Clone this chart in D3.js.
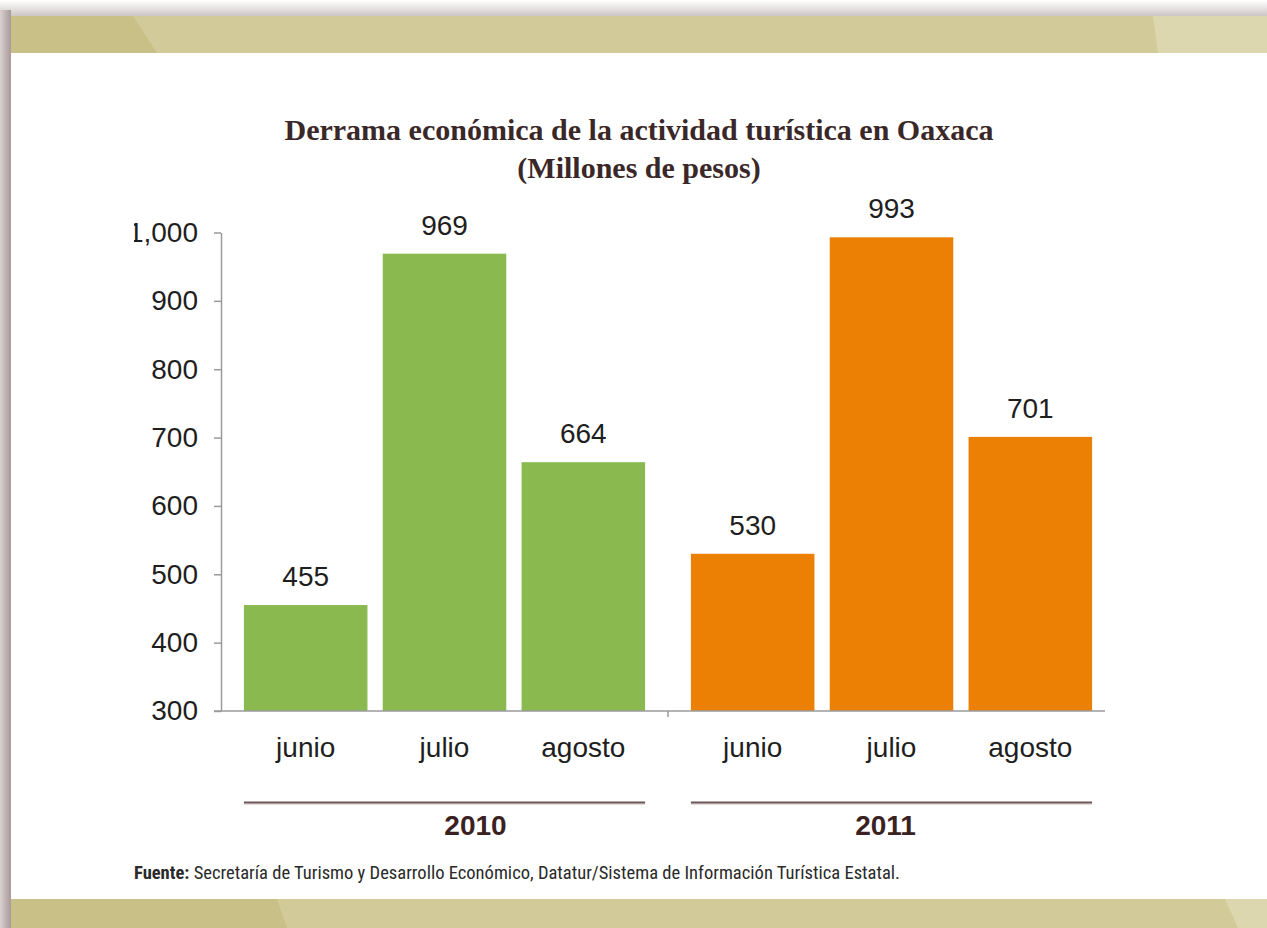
<!DOCTYPE html>
<html><head><meta charset="utf-8">
<script src="https://cdn.jsdelivr.net/npm/d3@7"></script>
<style>body{margin:0;background:#fff}svg{display:block}</style>
</head><body><svg id="c" width="1267" height="928"></svg>
<script>
// ---- data ----
const years = ["2010", "2011"];
const months = ["junio", "julio", "agosto"];
const values2010 = [455, 969, 664];
const values2011 = [530, 993, 701];
const yTicks = [300, 400, 500, 600, 700, 800, 900, 1000];
const seriesColors = ["#8aba4f", "#ec8005"];
const titleLines = ["Derrama económica de la actividad turística en Oaxaca", "(Millones de pesos)"];
const sourceLabel = "Fuente:";
const sourceText = " Secretaría de Turismo y Desarrollo Económico, Datatur/Sistema de Información Turística Estatal.";

const seriesValues = [values2010, values2011];
const rows = [];
years.forEach((yr, i) => months.forEach((m, j) => rows.push({year: yr, month: m, value: seriesValues[i][j], color: seriesColors[i]})));

const svg = d3.select("#c");
const W = 1267, H = 928;
const defs = svg.append("defs");

// ---- page decoration ----
const gTop = defs.append("linearGradient").attr("id", "gTop").attr("x1", 0).attr("y1", 0).attr("x2", 0).attr("y2", 1);
gTop.append("stop").attr("offset", "0%").attr("stop-color", "#ffffff");
gTop.append("stop").attr("offset", "100%").attr("stop-color", "#cdc7c6");
const gLeft = defs.append("linearGradient").attr("id", "gLeft").attr("x1", 0).attr("y1", 0).attr("x2", 1).attr("y2", 0);
gLeft.append("stop").attr("offset", "0%").attr("stop-color", "#d9d1cf");
gLeft.append("stop").attr("offset", "100%").attr("stop-color", "#a8999a");

svg.append("rect").attr("width", W).attr("height", H).attr("fill", "#fff");
svg.append("rect").attr("x", 0).attr("y", 0).attr("width", W).attr("height", 16).attr("fill", "url(#gTop)");
svg.append("rect").attr("x", 0).attr("y", 10).attr("width", 11).attr("height", H - 10).attr("fill", "url(#gLeft)");

// top band
svg.append("rect").attr("x", 11).attr("y", 16).attr("width", W - 11).attr("height", 37).attr("fill", "#d2ca99");
svg.append("path").attr("d", "M11,16 L133,16 L157,53 L11,53 Z").attr("fill", "#c8c086");
svg.append("path").attr("d", "M1153,16 L1267,16 L1267,53 L1158,53 Z").attr("fill", "#ddd7b0");
// bottom band
svg.append("rect").attr("x", 11).attr("y", 899).attr("width", W - 11).attr("height", 29).attr("fill", "#d2ca99");
svg.append("path").attr("d", "M11,899 L277,899 L287,928 L11,928 Z").attr("fill", "#c8c086");
svg.append("path").attr("d", "M1225,899 L1267,899 L1267,928 L1238,928 Z").attr("fill", "#ddd7b0");

// ---- title ----
svg.append("g").selectAll("text").data(titleLines).join("text")
  .attr("x", 639).attr("y", (d, i) => 140 + i * 38)
  .attr("text-anchor", "middle")
  .attr("font-family", "'Liberation Serif', 'DejaVu Serif', serif")
  .attr("font-weight", "bold").attr("font-size", 30)
  .attr("fill", "#3a2828")
  .text(d => d);

// ---- scales ----
const y = d3.scaleLinear().domain([300, 1000]).range([711, 232.5]);
const x0 = d3.scaleBand().domain(years).range([221, 1115]);
const x1 = d3.scaleBand().domain(months).range([0, x0.bandwidth()]).paddingInner(0.11).paddingOuter(0.165);

const chart = svg.append("g");

// bars
chart.append("g").selectAll("rect").data(rows).join("rect")
  .attr("x", d => x0(d.year) + x1(d.month))
  .attr("y", d => y(d.value))
  .attr("width", x1.bandwidth())
  .attr("height", d => y(300) - y(d.value))
  .attr("fill", d => d.color);

// value labels
chart.append("g").selectAll("text").data(rows).join("text")
  .attr("x", d => x0(d.year) + x1(d.month) + x1.bandwidth() / 2)
  .attr("y", d => y(d.value) - 19)
  .attr("text-anchor", "middle")
  .attr("font-family", "'Liberation Sans', Arial, sans-serif")
  .attr("font-size", 28).attr("fill", "#1e1e1e")
  .text(d => d.value);

// y axis (clipped at left like the reference)
defs.append("clipPath").attr("id", "clipY").append("rect").attr("x", 134 - 221).attr("y", 0).attr("width", 300).attr("height", H);
const yAxis = chart.append("g").attr("transform", "translate(221,0)").attr("clip-path", "url(#clipY)")
  .call(d3.axisLeft(y).tickValues(yTicks).tickSize(7).tickSizeOuter(0).tickPadding(16).tickFormat(d3.format(",")));
yAxis.select(".domain").attr("stroke", "#9a9a9a").attr("stroke-width", 1.5);
yAxis.selectAll(".tick line").attr("stroke", "#9a9a9a").attr("stroke-width", 1.5);
yAxis.selectAll(".tick text").attr("font-family", "'Liberation Sans', Arial, sans-serif").attr("font-size", 28).attr("fill", "#1e1e1e");

// x axis
const xa = chart.append("g");
xa.append("line").attr("x1", 214).attr("x2", 1105).attr("y1", y(300)).attr("y2", y(300))
  .attr("stroke", "#9a9a9a").attr("stroke-width", 1.5);
xa.selectAll("line.sep").data(years.slice(1)).join("line").attr("class", "sep")
  .attr("x1", d => x0(d)).attr("x2", d => x0(d)).attr("y1", y(300)).attr("y2", y(300) + 6)
  .attr("stroke", "#9a9a9a").attr("stroke-width", 1.5);

// month labels
chart.append("g").selectAll("text").data(rows).join("text")
  .attr("x", d => x0(d.year) + x1(d.month) + x1.bandwidth() / 2)
  .attr("y", 757)
  .attr("text-anchor", "middle")
  .attr("font-family", "'Liberation Sans', Arial, sans-serif")
  .attr("font-size", 28).attr("fill", "#1e1e1e")
  .text(d => d.month);

// year group lines + labels
const yearOffsets = [31, -6];
const yg = chart.append("g").selectAll("g").data(years).join("g");
yg.append("line")
  .attr("x1", d => x0(d) + x1(months[0]))
  .attr("x2", d => x0(d) + x1(months[months.length - 1]) + x1.bandwidth())
  .attr("y1", 804).attr("y2", 804)
  .attr("stroke", "#e2dcdc").attr("stroke-width", 2);
yg.append("line")
  .attr("x1", d => x0(d) + x1(months[0]))
  .attr("x2", d => x0(d) + x1(months[months.length - 1]) + x1.bandwidth())
  .attr("y1", 802.5).attr("y2", 802.5)
  .attr("stroke", "#6e5858").attr("stroke-width", 2);
yg.append("text")
  .attr("x", (d, i) => x0(d) + x0.bandwidth() / 2 + yearOffsets[i])
  .attr("y", 835)
  .attr("text-anchor", "middle")
  .attr("font-family", "'Liberation Sans', Arial, sans-serif")
  .attr("font-weight", "bold").attr("font-size", 28).attr("fill", "#3b2222")
  .text(d => d);

// ---- source ----
const src = svg.append("text").attr("x", 134).attr("y", 879)
  .attr("font-family", "'Liberation Sans Narrow', 'Roboto Condensed', 'Liberation Sans', sans-serif")
  .attr("font-size", 18).attr("fill", "#2a2a2a")
  .attr("textLength", 766).attr("lengthAdjust", "spacingAndGlyphs");
src.append("tspan").attr("font-weight", "bold").text(sourceLabel);
src.append("tspan").text(sourceText);
</script>
</body></html>
